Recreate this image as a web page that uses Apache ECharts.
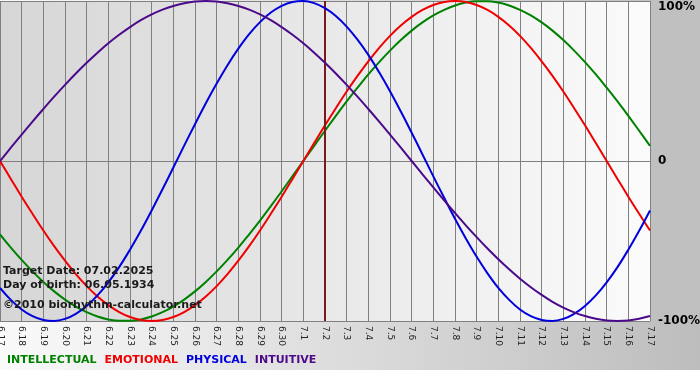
<!DOCTYPE html>
<html>
<head>
<meta charset="utf-8">
<script src="https://cdn.jsdelivr.net/npm/echarts@6/dist/echarts.min.js"></script>
<style>
html,body{margin:0;padding:0;background:#fff;}
#chart{width:700px;height:380px;}
</style>
</head>
<body>
<div id="chart"></div>
<script>
// Day labels (x axis), one per day
var days = ['6.17','6.18','6.19','6.20','6.21','6.22','6.23','6.24','6.25','6.26','6.27','6.28','6.29','6.30',
  '7.1','7.2','7.3','7.4','7.5','7.6','7.7','7.8','7.9','7.10','7.11','7.12','7.13','7.14','7.15','7.16','7.17'];
// Values in percent, every half day (first value = 6.17, last = 7.17)
var intellectual = [-45.8,-54.1,-61.8,-69.0,-75.6,-81.5,-86.6,-91.0,-94.5,-97.2,-99.0,-99.9,-99.9,-99.0,-97.2,-94.5,-91.0,-86.6,
  -81.5,-75.6,-69.0,-61.8,-54.1,-45.8,-37.2,-28.2,-18.9,-9.5,0,9.5,18.9,28.2,37.2,45.8,54.1,61.8,69.0,75.6,81.5,86.6,91.0,
  94.5,97.2,99.0,99.9,99.9,99.0,97.2,94.5,91.0,86.6,81.5,75.6,69.0,61.8,54.1,45.8,37.2,28.2,18.9,9.5];
var emotional = [0,-11.2,-22.3,-33.0,-43.4,-53.2,-62.3,-70.7,-78.2,-84.7,-90.1,-94.4,-97.5,-99.4,-100,-99.4,-97.5,-94.4,-90.1,
  -84.7,-78.2,-70.7,-62.3,-53.2,-43.4,-33.0,-22.3,-11.2,0,11.2,22.3,33.0,43.4,53.2,62.3,70.7,78.2,84.7,90.1,94.4,97.5,99.4,
  100,99.4,97.5,94.4,90.1,84.7,78.2,70.7,62.3,53.2,43.4,33.0,22.3,11.2,0,-11.2,-22.3,-33.0,-43.4];
var physical = [-79.3,-86.8,-92.8,-97.0,-99.4,-100,-98.7,-95.5,-90.6,-84.0,-75.8,-66.3,-55.4,-43.6,-30.9,-17.7,-4.1,9.6,23.0,
  36.1,48.4,59.9,70.2,79.3,86.8,92.8,97.0,99.4,100,98.7,95.5,90.6,84.0,75.8,66.3,55.4,43.6,30.9,17.7,4.1,-9.6,-23.0,-36.1,
  -48.4,-59.9,-70.2,-79.3,-86.8,-92.8,-97.0,-99.4,-100,-98.7,-95.5,-90.6,-84.0,-75.8,-66.3,-55.4,-43.6,-30.9];
var intuitive = [0,8.3,16.5,24.6,32.5,40.2,47.6,54.7,61.4,67.7,73.6,78.9,83.7,88.0,91.6,94.6,96.9,98.6,99.7,100,99.7,98.6,
  96.9,94.6,91.6,88.0,83.7,78.9,73.6,67.7,61.4,54.7,47.6,40.2,32.5,24.6,16.5,8.3,0,-8.3,-16.5,-24.6,-32.5,-40.2,-47.6,-54.7,
  -61.4,-67.7,-73.6,-78.9,-83.7,-88.0,-91.6,-94.6,-96.9,-98.6,-99.7,-100,-99.7,-98.6,-96.9];
var stepPerValue = 0.5; // days between consecutive values
var yTicks = [-100, 0, 100];
var yTickLabels = ['-100%', '0', '100%'];
var targetDay = '7.2';
var infoLines = ['Target Date: 07.02.2025', 'Day of birth: 06.05.1934', '\u00a92010 biorhythm-calculator.net'];
var seriesNames = ['INTELLECTUAL', 'EMOTIONAL', 'PHYSICAL', 'INTUITIVE'];
var seriesColors = ['#008000', '#f00000', '#0000dd', '#4b0a8a'];

var chart = echarts.init(document.getElementById('chart'), null, {renderer: 'canvas'});
var FONT = '"DejaVu Sans", Verdana, sans-serif';
var dataSets = [intellectual, emotional, physical, intuitive];

var series = seriesNames.map(function (n, i) {
  var s = {
    name: n, type: 'line', smooth: 0.4, showSymbol: false,
    data: dataSets[i].map(function (v, k) { return [k * stepPerValue, v]; }),
    lineStyle: {width: 2, color: seriesColors[i]}, itemStyle: {color: seriesColors[i]},
    animation: false, z: 3 + i
  };
  if (i === 0) {
    s.markLine = {
      silent: true, symbol: ['none', 'none'], label: {show: false},
      lineStyle: {color: '#7a1a1a', width: 2, type: 'solid'},
      data: [{xAxis: days.indexOf(targetDay)}], animation: false
    };
  }
  return s;
});

chart.setOption({
  backgroundColor: '#ffffff',
  animation: false,
  graphic: [
    {type: 'rect', z: -100, silent: true, shape: {x: 0, y: 0, width: 700, height: 370},
      style: {fill: new echarts.graphic.LinearGradient(0, 0, 1, 0, [
        {offset: 0, color: '#fafafa'}, {offset: 1, color: '#bdbdbd'}])}},
    {type: 'rect', z: -99, silent: true, shape: {x: 650, y: 0, width: 50, height: 322},
      style: {fill: '#c0c0c0'}},
    {type: 'text', z: 100, left: 3, top: 266, style: {text: infoLines[0], font: 'bold 11px ' + FONT, fill: '#1a1a1a'}},
    {type: 'text', z: 100, left: 3, top: 280, style: {text: infoLines[1], font: 'bold 11px ' + FONT, fill: '#1a1a1a'}},
    {type: 'text', z: 100, left: 3, top: 300, style: {text: infoLines[2], font: 'bold 11px ' + FONT, fill: '#1a1a1a'}}
  ],
  legend: {
    left: 2, top: 355, padding: 0, icon: 'none', itemWidth: 0, itemHeight: 10, itemGap: 3,
    selectedMode: false,
    data: seriesNames.map(function (n, i) {
      return {name: n, textStyle: {color: seriesColors[i], fontWeight: 'bold', fontSize: 11, fontFamily: FONT}};
    })
  },
  grid: {
    left: 0, right: 50, top: 1, bottom: 59, show: true, borderWidth: 0,
    outerBoundsMode: 'none', containLabel: false,
    backgroundColor: new echarts.graphic.LinearGradient(0, 0, 1, 0, [
      {offset: 0, color: '#d6d6d6'}, {offset: 1, color: '#fbfbfb'}])
  },
  xAxis: {
    type: 'value', min: 0, max: days.length - 1, interval: 1,
    axisLine: {show: true, onZero: false, lineStyle: {color: '#808080', width: 1}},
    axisTick: {show: false},
    splitLine: {show: true, lineStyle: {color: '#808080', width: 1}},
    axisLabel: {rotate: -90, margin: 5, fontSize: 9, fontFamily: FONT, color: '#222',
      showMinLabel: true, showMaxLabel: true,
      formatter: function (v) { return days[Math.round(v)] || ''; }}
  },
  yAxis: {
    type: 'value', position: 'right', min: -100, max: 100, interval: 100,
    axisLine: {show: false}, axisTick: {show: false},
    splitLine: {show: true, lineStyle: {color: '#808080', width: 1}},
    axisLabel: {
      margin: 8, fontSize: 12, fontWeight: 'bold', fontFamily: FONT, color: '#000',
      formatter: function (v) {
        var k = yTicks.indexOf(v);
        var t = k >= 0 ? yTickLabels[k] : '';
        return v === 100 ? '{t|' + t + '}' : t;
      },
      rich: {t: {fontSize: 12, fontWeight: 'bold', fontFamily: FONT, color: '#000', padding: [11, 0, 0, 0]}}
    }
  },
  series: series
});
</script>
</body>
</html>
